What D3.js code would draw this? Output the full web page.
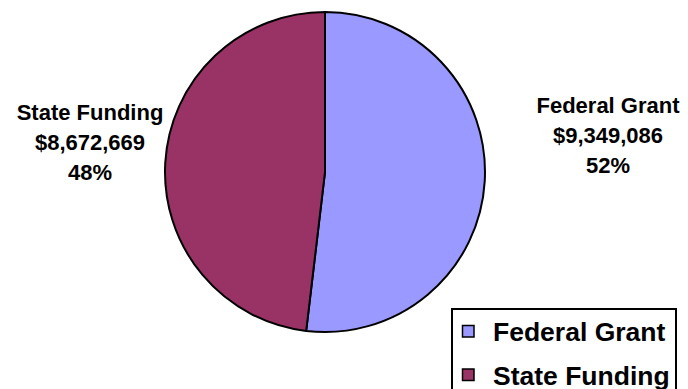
<!DOCTYPE html>
<html>
<head>
<meta charset="utf-8">
<script src="https://cdn.jsdelivr.net/npm/d3@7"></script>
<style>
  html, body { margin: 0; padding: 0; background: #fff; }
  svg { display: block; font-family: "Liberation Sans", Arial, sans-serif; font-weight: bold; }
</style>
</head>
<body>
<div id="chart"></div>
<script>
const categories = ["Federal Grant", "State Funding"];
const amounts = [9349086, 8672669];
const colors = ["#9999FF", "#993366"];

const width = 688;
const height = 389;
const cx = 325, cy = 172, radius = 160;

const svg = d3.select("#chart")
    .append("svg")
    .attr("width", width)
    .attr("height", height);

const total = d3.sum(amounts);
const data = categories.map((c, i) => ({ name: c, value: amounts[i], color: colors[i] }));

const pie = d3.pie().value(d => d.value).sort(null);
const arc = d3.arc().innerRadius(0).outerRadius(radius);

const g = svg.append("g").attr("transform", `translate(${cx},${cy})`);

g.selectAll("path")
    .data(pie(data))
    .enter().append("path")
    .attr("d", arc)
    .attr("fill", d => d.data.color)
    .attr("stroke", "#000")
    .attr("stroke-width", 2)
    .attr("stroke-linejoin", "round");

// label placement: horizontal offset from centre + first baseline
const labelPos = [
    { x: 283, y: 113 },
    { x: -235, y: 120 }
];
const money = d3.format("$,.0f");

pie(data).forEach((d, i) => {
    const lines = [d.data.name, money(d.data.value), Math.round(d.data.value / total * 100) + "%"];
    const t = svg.append("text")
        .attr("text-anchor", "middle")
        .attr("font-size", 22)
        .attr("fill", "#000");
    lines.forEach((ln, j) => {
        t.append("tspan")
            .attr("x", cx + labelPos[i].x)
            .attr("y", labelPos[i].y + j * 30)
            .text(ln);
    });
});

// legend (box runs past the bottom edge, as in the original)
const legend = svg.append("g").attr("transform", "translate(452,309)");
legend.append("rect")
    .attr("width", 224)
    .attr("height", 100)
    .attr("fill", "#fff")
    .attr("stroke", "#000")
    .attr("stroke-width", 2);

const rows = legend.selectAll("g.row")
    .data(data)
    .enter().append("g")
    .attr("class", "row")
    .attr("transform", (d, i) => `translate(0,${22 + i * 43.5})`);

rows.append("rect")
    .attr("x", 10.5)
    .attr("y", -5.5)
    .attr("width", 11.5)
    .attr("height", 11.5)
    .attr("fill", d => d.color)
    .attr("stroke", "#000")
    .attr("stroke-width", 1.5);

rows.append("text")
    .attr("x", 41)
    .attr("y", 10)
    .attr("font-size", 26.5)
    .text(d => d.name);
</script>
</body>
</html>
